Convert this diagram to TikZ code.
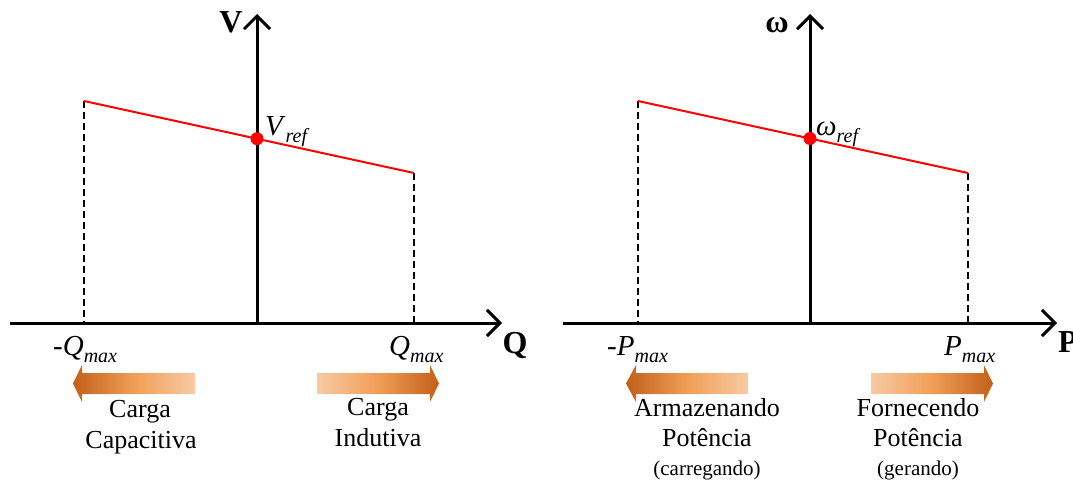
\documentclass[tikz,border=0pt]{standalone}
\usepackage{fontspec}
\setmainfont{Liberation Serif}
\usetikzlibrary{arrows.meta}
\definecolor{arrdark}{HTML}{C2601A}
\definecolor{arrmid}{HTML}{F09E56}
\definecolor{arrlight}{HTML}{F8CAA4}
\newcommand{\mysub}[1]{\raisebox{-7pt}{\fontsize{20}{20}\selectfont\itshape #1}}
\begin{document}
\begin{tikzpicture}[x=1pt,y=-1pt,
  axis/.style={line width=3pt,-{Straight Barb[length=13pt,width=26pt]}},
  droop/.style={red,line width=2pt},
  guide/.style={dash pattern=on 7pt off 4pt,line width=1.4pt},
  refdot/.style={circle,fill=red,minimum size=13pt,inner sep=0pt},
  axlbl/.style={font=\rmfamily\bfseries\fontsize{32}{32}\selectfont,inner sep=0pt},
  mathlbl/.style={font=\rmfamily\fontsize{29}{29}\selectfont,inner sep=0pt,anchor=base west},
  txt/.style={font=\rmfamily\fontsize{26}{30}\selectfont,inner sep=0pt,anchor=base},
  smalltxt/.style={font=\rmfamily\fontsize{21}{24}\selectfont,inner sep=0pt,anchor=base}]
\useasboundingbox (0,0) rectangle (1073,485);

% ---------- left plot ----------
\coordinate (qx0) at (10,323);
\coordinate (qx1) at (502,323);
\coordinate (vy0) at (257,323);
\coordinate (vy1) at (257,14);
\coordinate (qa) at (84,101);
\coordinate (qb) at (414,173);
\coordinate (qa0) at (84,323);
\coordinate (qb0) at (414,323);
\draw[guide] (qa) -- (qa0);
\draw[guide] (qb) -- (qb0);
\draw[axis] (qx0) -- (qx1);
\draw[axis] (vy0) -- (vy1);
\draw[droop] (qa) -- (qb);
\node[refdot] (vref) at (257,138.7) {};
\node[axlbl] (vlab) at (231,22) {V};
\node[axlbl] (qlab) at (515,345) {Q};
\node[mathlbl] (vreflab) at (265,135) {\textit{V}\mysub{ref}};
\node[mathlbl] (qminlab) at (53,355) {-\textit{Q}\mysub{max}};
\node[mathlbl] (qmaxlab) at (389,355) {\textit{Q}\mysub{max}};

\shade[left color=arrdark,right color=arrlight,middle color=arrmid]
  (73,383.5) -- (82,365) -- (82,373) -- (195,373) -- (195,394) -- (82,394) -- (82,402) -- cycle;
\shade[left color=arrlight,right color=arrdark,middle color=arrmid]
  (439,383.5) -- (430,365) -- (430,373) -- (317,373) -- (317,394) -- (430,394) -- (430,402) -- cycle;
\node[txt] (cap1) at (140,417) {Carga};
\node[txt] (cap2) at (141,448) {Capacitiva};
\node[txt] (ind1) at (378,415) {Carga};
\node[txt] (ind2) at (378,446) {Indutiva};

% ---------- right plot ----------
\coordinate (px0) at (563,323);
\coordinate (px1) at (1057,323);
\coordinate (wy0) at (810,323);
\coordinate (wy1) at (810,14);
\coordinate (pa) at (638,101);
\coordinate (pb) at (968,173);
\coordinate (pa0) at (638,323);
\coordinate (pb0) at (968,323);
\draw[guide] (pa) -- (pa0);
\draw[guide] (pb) -- (pb0);
\draw[axis] (px0) -- (px1);
\draw[axis] (wy0) -- (wy1);
\draw[droop] (pa) -- (pb);
\node[refdot] (wref) at (810,138.5) {};
\node[axlbl] (wlab) at (777,25) {ω};
\node[axlbl,anchor=west] (plab) at (1058,342) {P};
\node[mathlbl] (wreflab) at (816,135) {\textit{ω}\mysub{ref}};
\node[mathlbl] (pminlab) at (607,355) {-\textit{P}\mysub{max}};
\node[mathlbl] (pmaxlab) at (944,355) {\textit{P}\mysub{max}};

\shade[left color=arrdark,right color=arrlight,middle color=arrmid]
  (626,383.5) -- (636,365) -- (636,373) -- (748,373) -- (748,394) -- (636,394) -- (636,402) -- cycle;
\shade[left color=arrlight,right color=arrdark,middle color=arrmid]
  (993,383.5) -- (984,365) -- (984,373) -- (871,373) -- (871,394) -- (984,394) -- (984,402) -- cycle;
\node[txt] (arm1) at (707,416) {Armazenando};
\node[txt] (arm2) at (707,446) {Potência};
\node[smalltxt] (arm3) at (707,475) {(carregando)};
\node[txt] (for1) at (918,416) {Fornecendo};
\node[txt] (for2) at (918,446) {Potência};
\node[smalltxt] (for3) at (918,475) {(gerando)};
\end{tikzpicture}
\end{document}
